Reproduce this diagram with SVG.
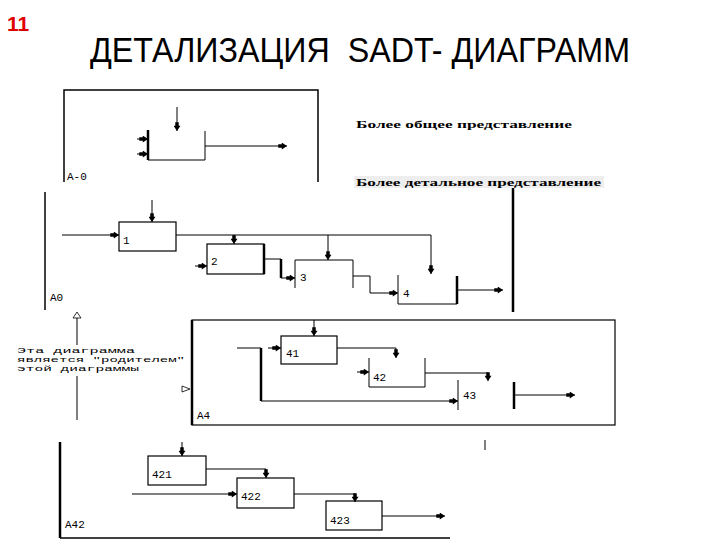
<svg xmlns="http://www.w3.org/2000/svg" width="720" height="540" viewBox="0 0 720 540">
<defs>
<marker id="ah" viewBox="0 0 10 8" refX="10" refY="4" markerWidth="10" markerHeight="7" markerUnits="userSpaceOnUse" orient="auto">
<path d="M0,2 L4,2 L4,0 L10,4 L4,8 L4,6 L0,6Z" fill="#000"/>
</marker>
</defs>
<style>
.ln{fill:none;stroke:#000;stroke-width:1}
.th{fill:none;stroke:#000;stroke-width:2.5}
.fr{fill:none;stroke:#000;stroke-width:1.5}
.bx{fill:#fff;stroke:#000;stroke-width:1.2}
.ar{fill:none;stroke:#000;stroke-width:1;marker-end:url(#ah)}
.lb{font-family:"Liberation Mono","DejaVu Sans Mono",monospace;font-size:11px;fill:#000}
.nt{font-family:"Liberation Serif","DejaVu Serif",serif;font-size:10px;font-weight:bold;fill:#000}
.an{font-family:"Liberation Mono","DejaVu Sans Mono",monospace;font-size:8px;fill:#000}
</style>

<text x="7" y="31" font-family="Liberation Sans, Arial, sans-serif" font-size="21" font-weight="bold" fill="#e00000">11</text>
<text x="90" y="62" font-family="Liberation Sans, Arial, sans-serif" font-size="35" fill="#000" textLength="540" lengthAdjust="spacingAndGlyphs" xml:space="preserve">ДЕТАЛИЗАЦИЯ  SADT- ДИАГРАММ</text>

<g id="note-general"><text class="nt" x="356" y="128" textLength="216" lengthAdjust="spacingAndGlyphs">Более общее представление</text></g>
<g id="note-detailed"><rect x="354" y="176" width="250" height="12" fill="#eeeeee"/><text class="nt" x="356" y="186" textLength="245" lengthAdjust="spacingAndGlyphs">Более детальное представление</text></g>

<!-- A-0 page -->
<g id="page-A-0">
<path class="fr" d="M64,182 V90 H318 V182"/>
<text class="lb" x="67" y="180">А-0</text>
</g>
<g id="node-A-0-box">
<path class="ln" d="M205,131 V160 H148"/>
<path class="th" d="M148,130 V160"/>
</g>

<!-- A0 page -->
<g id="page-A0">
<path class="fr" d="M45,192 V310"/>
<path class="th" d="M513,188 V312"/>
<text class="lb" x="50" y="301">А0</text>
</g>
<g id="node-1"><rect class="bx" x="119" y="222" width="57" height="29"/><text class="lb" x="123" y="244">1</text></g>
<g id="node-2"><rect class="bx" x="207" y="244" width="57" height="30"/><path class="th" d="M264,244 V274"/><text class="lb" x="211" y="265">2</text></g>
<g id="node-3"><path class="ln" d="M295,288 V260 H353 V288"/><text class="lb" x="300" y="281">3</text></g>
<g id="node-4"><path class="ln" d="M398,275 V304 H457"/><path class="th" d="M457,276 V304"/><text class="lb" x="403" y="297">4</text></g>

<!-- A4 page -->
<g id="page-A4">
<rect x="192" y="320" width="423" height="105" fill="#fff" stroke="#000" stroke-width="1.2"/>
<path class="th" d="M192,320 V425"/>
<text class="lb" x="197" y="419">А4</text>
<path d="M182,386 L190,389 L182,392Z" fill="#fff" stroke="#000" stroke-width="0.8"/>
</g>
<g id="node-41"><rect class="bx" x="281" y="336" width="56" height="28"/><text class="lb" x="286" y="357">41</text></g>
<g id="node-42"><path class="ln" d="M369,358 V387 H425 V358"/><text class="lb" x="373" y="381">42</text></g>
<g id="node-43"><path class="ln" d="M458,380 V410"/><path class="th" d="M514,382 V409"/><text class="lb" x="463" y="399">43</text></g>

<!-- A42 page -->
<g id="page-A42">
<path class="th" d="M60,442 V538"/>
<path class="fr" d="M60,538 H450"/>
<text class="lb" x="65" y="528">А42</text>
<path class="ln" d="M485,440 V450"/>
</g>
<g id="node-421"><rect class="bx" x="148" y="456" width="58" height="29"/><text class="lb" x="152" y="478">421</text></g>
<g id="node-422"><rect class="bx" x="237" y="478" width="57" height="30"/><text class="lb" x="241" y="500">422</text></g>
<g id="node-423"><rect class="bx" x="326" y="501" width="56" height="29"/><text class="lb" x="330" y="524">423</text></g>

<!-- parent note -->
<g id="parent-note">
<text class="an" x="17" y="353" textLength="118" lengthAdjust="spacingAndGlyphs">Эта диаграмма</text>
<text class="an" x="17" y="362" textLength="168" lengthAdjust="spacingAndGlyphs">является "родителем"</text>
<text class="an" x="17" y="371" textLength="122" lengthAdjust="spacingAndGlyphs">этой диаграммы</text>
</g>

<g id="connectors">
<!-- A-0 -->
<path class="ar" d="M177,107 V131"/>
<path class="ar" d="M137,139 H148"/>
<path class="ar" d="M137,154 H148"/>
<path class="ar" d="M205,146 H287"/>
<!-- A0 -->
<path class="ar" d="M152,200 V222"/>
<path class="ar" d="M62,235 H119"/>
<path class="ln" d="M176,235 H431"/>
<path class="ar" d="M234,235 V244"/>
<path class="ar" d="M328,235 V260"/>
<path class="ar" d="M431,235 V274"/>
<path class="ar" d="M195,266 H207"/>
<path class="ln" d="M264,259 H281"/>
<path class="th" d="M281,259 V278"/>
<path class="ar" d="M281,278 H295"/>
<path class="ln" d="M353,276 H370 V293"/>
<path class="ar" d="M370,293 H398"/>
<path class="ar" d="M457,290 H503"/>
<!-- parent arrow -->
<path class="ln" d="M77,318 V345"/>
<path d="M73,318 L77,312 L81,318Z" fill="#fff" stroke="#000" stroke-width="0.8"/>
<path class="ln" d="M77,376 V420"/>
<!-- A4 -->
<path class="ar" d="M314,320 V336"/>
<path class="ar" d="M268,348 H281"/>
<path class="ln" d="M237,348 H261"/>
<path class="th" d="M261,348 V401"/>
<path class="ar" d="M261,401 H458"/>
<path class="ln" d="M337,348 H396"/>
<path class="ar" d="M396,348 V358"/>
<path class="ar" d="M357,372 H369"/>
<path class="ln" d="M425,373 H488"/>
<path class="ar" d="M488,373 V381"/>
<path class="ar" d="M514,395 H575"/>
<!-- A42 -->
<path class="ar" d="M182,442 V456"/>
<path class="ln" d="M206,469 H266"/>
<path class="ar" d="M266,469 V478"/>
<path class="ar" d="M132,494 H237"/>
<path class="ln" d="M294,494 H355"/>
<path class="ar" d="M355,494 V502"/>
<path class="ar" d="M382,516 H445"/>
</g>
</svg>
